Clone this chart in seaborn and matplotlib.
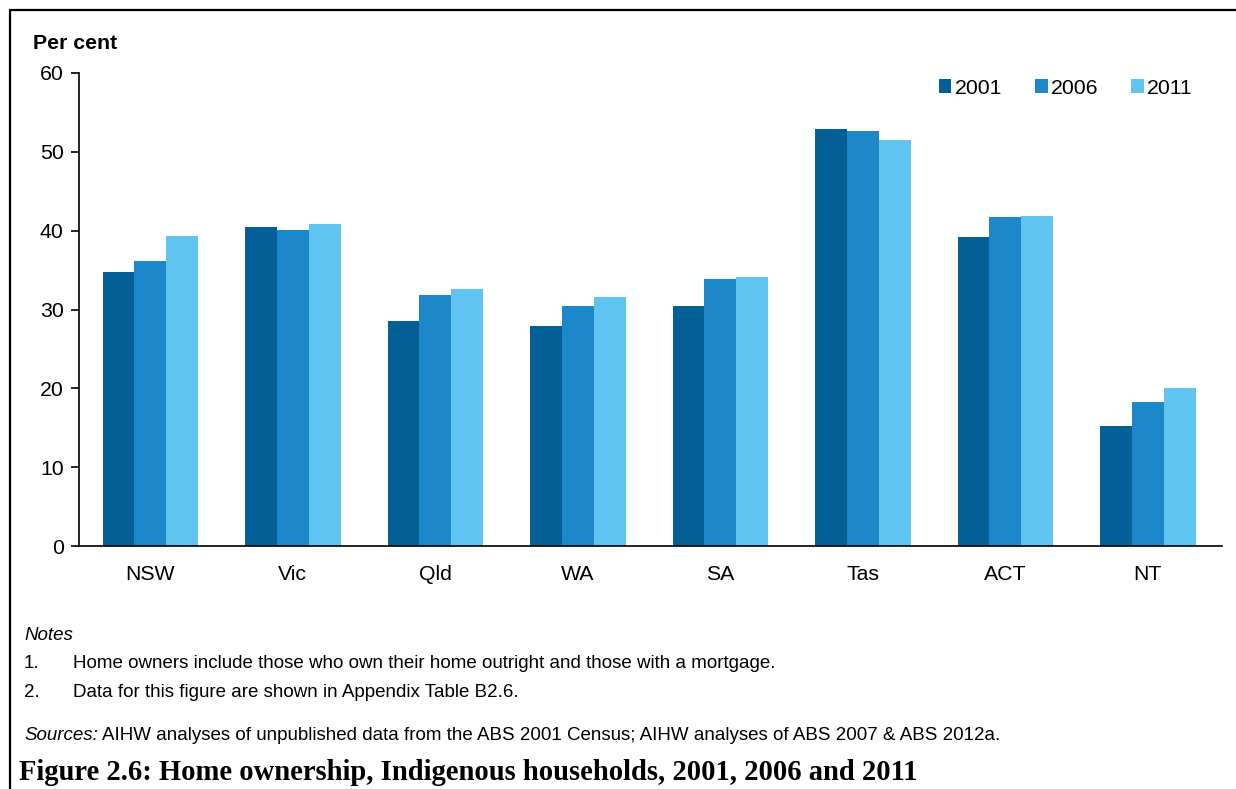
import seaborn as sns
import matplotlib.pyplot as plt
import pandas as pd
from matplotlib.lines import Line2D
from matplotlib.patches import Patch

# DATA #
states = ["NSW", "Vic", "Qld", "WA", "SA", "Tas", "ACT", "NT"]
years = ["2001", "2006", "2011"]
pct_2001 = [34.8, 40.5, 28.6, 27.9, 30.5, 52.9, 39.2, 15.2]
pct_2006 = [36.2, 40.1, 31.9, 30.4, 33.9, 52.6, 41.7, 18.3]
pct_2011 = [39.3, 40.8, 32.6, 31.6, 34.1, 51.5, 41.8, 20.1]
colours = ["#035f96", "#1c88c9", "#5fc5f0"]

df = pd.DataFrame({
    "State": states * 3,
    "Year": [y for y in years for _ in states],
    "Per cent": pct_2001 + pct_2006 + pct_2011,
})

# PLOTTING #
sns.set_style("white")
plt.rcParams["font.family"] = ["Liberation Sans", "DejaVu Sans"]
plt.rcParams["text.color"] = "black"
plt.rcParams["xtick.color"] = "black"
plt.rcParams["ytick.color"] = "black"

fig = plt.figure(figsize=(12.36, 7.89), dpi=100)
ax = fig.add_axes([79 / 1236, 1 - 546 / 789, (1222 - 79) / 1236, (546 - 73) / 789])

sns.barplot(data=df, x="State", y="Per cent", hue="Year", palette=colours,
            width=0.67, saturation=1, edgecolor="none", legend=False, ax=ax)

ax.set_xlim(-0.5, 7.52)
ax.set_ylim(0, 60)
ax.set_yticks([0, 10, 20, 30, 40, 50, 60])
ax.set_xlabel("")
ax.set_ylabel("")
for s in ["top", "right"]:
    ax.spines[s].set_visible(False)
for s in ["left", "bottom"]:
    ax.spines[s].set_color("black")
    ax.spines[s].set_linewidth(1.2)
ax.tick_params(axis="y", which="major", left=True, length=6, width=1.2,
               color="black", labelsize=15.3, pad=5)
ax.tick_params(axis="x", bottom=False, labelsize=15.3, pad=10)

handles = [Patch(facecolor=c, edgecolor="none") for c in colours]
ax.legend(handles, years, loc="upper right", bbox_to_anchor=(0.982, 1.006), ncol=3,
          frameon=False, fontsize=15.3, handlelength=0.6, handleheight=0.6,
          handletextpad=0.15, columnspacing=1.55, borderaxespad=0.0)

# TEXTS #
fig.text(33 / 1236, 1 - 49 / 789, "Per cent", fontsize=15.3, fontweight="bold",
         va="baseline", ha="left")
fs = 13.5
fig.text(24 / 1236, 1 - 640 / 789, "Notes", fontsize=fs, style="italic",
         va="baseline")
fig.text(24 / 1236, 1 - 668 / 789, "1.", fontsize=fs, va="baseline")
fig.text(73 / 1236, 1 - 668 / 789,
         "Home owners include those who own their home outright and those with a mortgage.",
         fontsize=fs, va="baseline")
fig.text(24 / 1236, 1 - 697 / 789, "2.", fontsize=fs, va="baseline")
fig.text(73 / 1236, 1 - 697 / 789, "Data for this figure are shown in Appendix Table B2.6.",
         fontsize=fs, va="baseline")
t = fig.text(24 / 1236, 1 - 740 / 789, "Sources:", fontsize=fs, style="italic",
             va="baseline")
fig.canvas.draw()
bb = t.get_window_extent()
fig.text((bb.x1 + 4) / 1236, 1 - 740 / 789,
         "AIHW analyses of unpublished data from the ABS 2001 Census; AIHW analyses of ABS 2007 & ABS 2012a.",
         fontsize=fs, va="baseline")
fig.text(19 / 1236, 1 - 780 / 789,
         "Figure 2.6: Home ownership, Indigenous households, 2001, 2006 and 2011",
         fontsize=20.6, fontweight="bold", family=["Liberation Serif", "DejaVu Serif"],
         va="baseline")

# frame round the figure (left and top)
fig.add_artist(Line2D([10 / 1236, 10 / 1236], [0, 1 - 10 / 789], color="black",
                      linewidth=1.6, transform=fig.transFigure))
fig.add_artist(Line2D([10 / 1236, 1], [1 - 10 / 789, 1 - 10 / 789], color="black",
                      linewidth=1.6, transform=fig.transFigure))

fig.savefig("out.png", dpi=100)
